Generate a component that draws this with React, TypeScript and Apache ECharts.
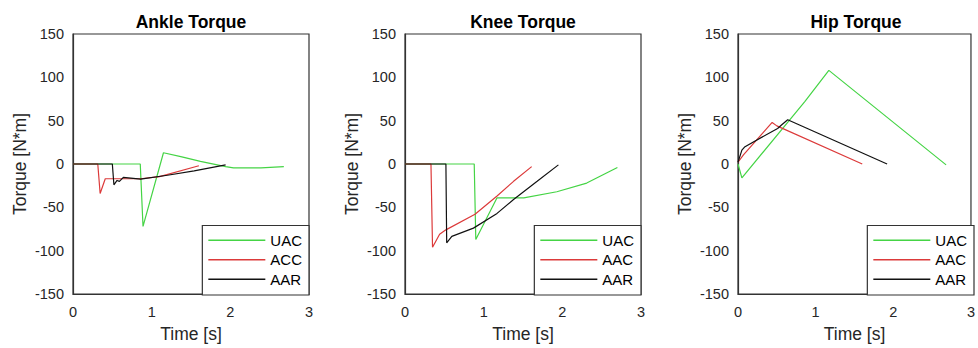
import React, { useEffect, useRef } from 'react';
import * as echarts from 'echarts';

// ---- data ----
const titles = ['Ankle Torque', 'Knee Torque', 'Hip Torque'];
const seriesNames = [
  ['UAC', 'ACC', 'AAR'],
  ['UAC', 'AAC', 'AAR'],
  ['UAC', 'AAC', 'AAR'],
];
const xTicks = [0, 1, 2, 3];
const yTicks = [-150, -100, -50, 0, 50, 100, 150];

const ankleUAC: number[][] = [[0, 0], [0.855, 0], [0.89, -72], [1.15, 13], [1.37, 8.5], [1.62, 3], [1.94, -3], [2.04, -4.5], [2.39, -4.5], [2.68, -3]];
const ankleACC: number[][] = [[0, 0], [0.315, 0], [0.345, -34], [0.41, -17], [0.86, -17], [1.1, -14.5], [1.6, -2]];
const ankleAAR: number[][] = [[0, 0], [0.5, 0], [0.52, -24], [0.56, -19], [0.59, -20], [0.64, -15.5], [0.86, -17.5], [1.2, -13], [1.54, -8], [1.94, -1]];

const kneeUAC: number[][] = [[0, 0], [0.88, 0], [0.9, -87], [1.17, -39], [1.51, -39], [1.93, -32], [2.31, -22], [2.7, -4]];
const kneeAAC: number[][] = [[0, 0], [0.33, 0], [0.35, -96], [0.44, -81], [0.52, -76], [0.89, -58], [1.17, -37], [1.38, -20], [1.61, -3]];
const kneeAAR: number[][] = [[0, 0], [0.52, 0], [0.53, -91], [0.595, -83.5], [0.87, -74], [1.17, -57], [1.38, -41], [1.68, -20], [1.95, -1]];

const hipUAC: number[][] = [[0, 0], [0.05, -16], [0.86, 72], [1.17, 108], [2.68, -1]];
const hipAAC: number[][] = [[0, 2], [0.07, 10.5], [0.44, 48], [0.5, 44], [1.6, 0]];
const hipAAR: number[][] = [[0, 2], [0.05, 16], [0.09, 20], [0.51, 41], [0.56, 45], [0.64, 51], [1.92, 0]];

const panelData = [
  [ankleUAC, ankleACC, ankleAAR],
  [kneeUAC, kneeAAC, kneeAAR],
  [hipUAC, hipAAC, hipAAR],
];
const lineColors = ['#45d445', '#dc3a3a', '#111111'];

// ---- layout ----
const W = 978;
const H = 348;
const gridLefts = [73, 405, 738];
const gridWidth = 236;
const gridTop = 34;
const gridHeight = 261;
const FONT = 'Liberation Sans, Arial, Helvetica, sans-serif';
const TXT = '#262626';
const AXC = '#333333';

function buildOption() {
  const grid: any[] = [];
  const xAxis: any[] = [];
  const yAxis: any[] = [];
  const title: any[] = [];
  const legend: any[] = [];
  const series: any[] = [];
  for (let p = 0; p < 3; p++) {
    const left = gridLefts[p];
    grid.push({
      left, top: gridTop, width: gridWidth, height: gridHeight,
      show: true, borderColor: AXC, borderWidth: 1.2, backgroundColor: '#fff',
    });
    xAxis.push({
      type: 'value', gridIndex: p, min: xTicks[0], max: xTicks[xTicks.length - 1], interval: 1,
      name: 'Time [s]', nameLocation: 'middle', nameGap: 31,
      nameTextStyle: { fontSize: 17.5, color: TXT, fontFamily: FONT },
      axisLine: { show: true, onZero: false, lineStyle: { color: AXC, width: 1.2 } },
      axisTick: { show: false },
      splitLine: { show: false },
      axisLabel: { fontSize: 14.5, color: TXT, fontFamily: FONT, margin: 10 },
    });
    yAxis.push({
      type: 'value', gridIndex: p, min: yTicks[0], max: yTicks[yTicks.length - 1], interval: 50,
      name: 'Torque [N*m]', nameLocation: 'middle', nameGap: 44,
      nameTextStyle: { fontSize: 17.5, color: TXT, fontFamily: FONT },
      axisLine: { show: true, onZero: false, lineStyle: { color: AXC, width: 1.2 } },
      axisTick: { show: false },
      splitLine: { show: false },
      axisLabel: { fontSize: 14.5, color: TXT, fontFamily: FONT, margin: 9 },
    });
    title.push({
      text: titles[p], left: left + gridWidth / 2, top: 13, textAlign: 'center', padding: 0,
      textStyle: { fontSize: 17.5, fontWeight: 'bold', color: '#000', fontFamily: FONT },
    });
    legend.push({
      orient: 'vertical', right: W - (left + gridWidth), bottom: H - (gridTop + gridHeight),
      icon: 'rect', itemWidth: 57, itemHeight: 1.5, itemGap: 0,
      padding: [5, 7, 6, 6], borderColor: AXC, borderWidth: 1.2, backgroundColor: '#fff',
      selectedMode: false,
      textStyle: { fontSize: 15, color: '#000', fontFamily: FONT, lineHeight: 19.5 },
      data: seriesNames[p],
    });
    for (let s = 0; s < 3; s++) {
      series.push({
        type: 'line', name: seriesNames[p][s], xAxisIndex: p, yAxisIndex: p,
        data: panelData[p][s], symbol: 'none', smooth: false,
        lineStyle: { color: lineColors[s], width: 1.2 },
        itemStyle: { color: lineColors[s] },
      });
    }
  }
  return { animation: false, backgroundColor: '#fff', grid, xAxis, yAxis, title, legend, series };
}

export default function App() {
  const ref = useRef<HTMLDivElement>(null);
  useEffect(() => {
    if (!ref.current) return;
    const chart = echarts.init(ref.current, undefined, { renderer: 'svg' });
    chart.setOption(buildOption() as any);
    return () => chart.dispose();
  }, []);
  return (
    <div
      ref={ref}
      style={{ position: 'absolute', left: 0, top: 0, width: W, height: H, background: '#fff' }}
    />
  );
}
